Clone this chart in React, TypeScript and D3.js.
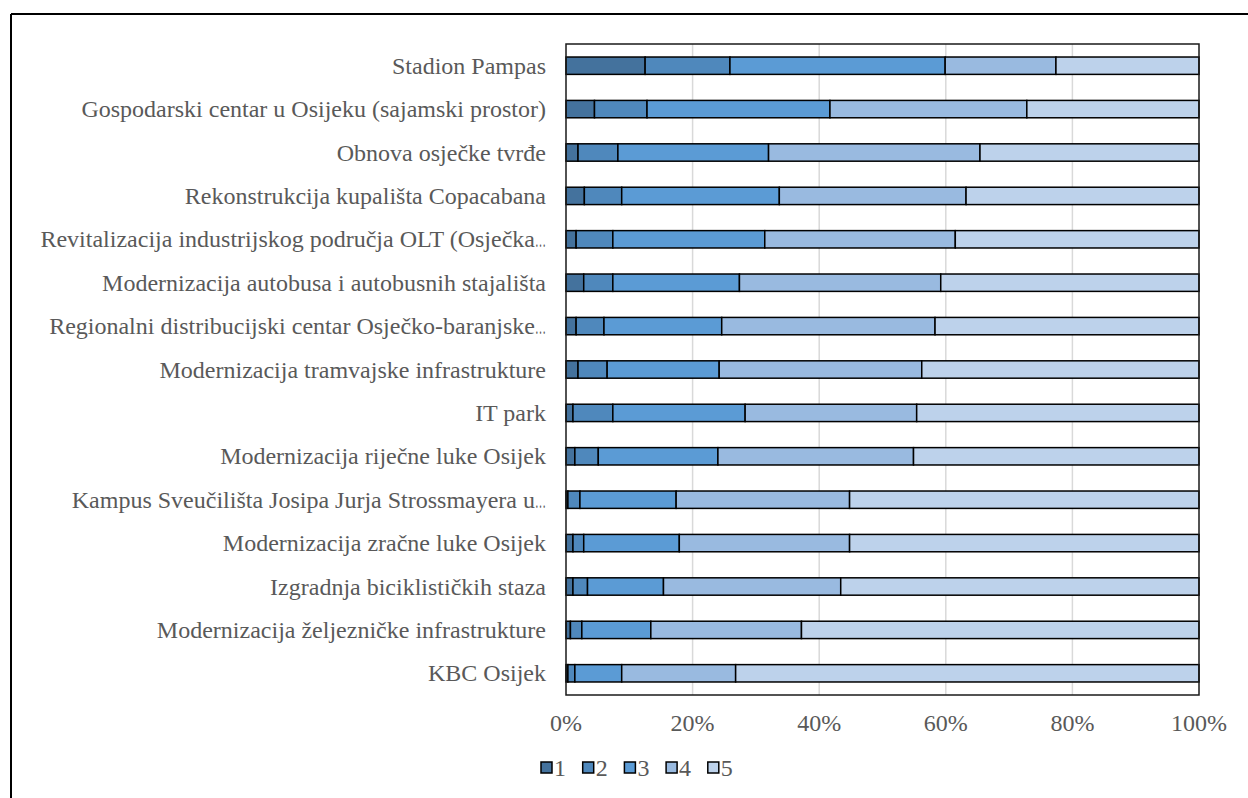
import React from "react";
import * as d3 from "d3";

const categories = [
  "Stadion Pampas",
  "Gospodarski centar u Osijeku (sajamski prostor)",
  "Obnova osječke tvrđe",
  "Rekonstrukcija kupališta Copacabana",
  "Revitalizacija industrijskog područja OLT (Osječka…",
  "Modernizacija autobusa i autobusnih stajališta",
  "Regionalni distribucijski centar Osječko-baranjske…",
  "Modernizacija tramvajske infrastrukture",
  "IT park",
  "Modernizacija riječne luke Osijek",
  "Kampus Sveučilišta Josipa Jurja Strossmayera u…",
  "Modernizacija zračne luke Osijek",
  "Izgradnja biciklističkih staza",
  "Modernizacija željezničke infrastrukture",
  "KBC Osijek",
];

const series1 = [12.5, 4.5, 1.9, 2.9, 1.6, 2.8, 1.6, 1.9, 1.1, 1.4, 0.3, 1.1, 1.1, 0.7, 0.3];
const series2 = [13.4, 8.3, 6.3, 5.9, 5.8, 4.6, 4.4, 4.6, 6.3, 3.7, 1.9, 1.7, 2.3, 1.8, 1.1];
const series3 = [34.0, 28.9, 23.8, 24.9, 24.0, 20.0, 18.6, 17.7, 20.9, 18.9, 15.2, 15.1, 12.0, 10.9, 7.4];
const series4 = [17.5, 31.1, 33.4, 29.5, 30.1, 31.8, 33.7, 32.0, 27.1, 30.9, 27.4, 26.9, 28.0, 23.8, 18.0];
const series5 = [22.6, 27.2, 34.6, 36.8, 38.5, 40.8, 41.7, 43.8, 44.6, 45.1, 55.2, 55.2, 56.6, 62.8, 73.2];

const seriesNames = ["1", "2", "3", "4", "5"];
const colors = ["#44729d", "#4f88bc", "#5b9bd5", "#99bae0", "#bdd2eb"];
const xTicks = [0, 0.2, 0.4, 0.6, 0.8, 1];

const W = 1248;
const H = 798;
const FONT = "'Liberation Serif', 'Times New Roman', serif";
const TEXT = "#595959";
const FS = 24;

function Label({ text }: { text: string }) {
  if (text.endsWith("…")) {
    return (
      <>
        {text.slice(0, -1)}
        <tspan textLength={11} lengthAdjust="spacingAndGlyphs">…</tspan>
      </>
    );
  }
  return <>{text}</>;
}

export default function App() {
  const left = 566;
  const right = 1199;
  const top = 44;
  const bottom = 695;

  const rows = categories.map((c, i) => {
    const vals = [series1[i], series2[i], series3[i], series4[i], series5[i]];
    const total = d3.sum(vals);
    const r: any = { cat: c };
    seriesNames.forEach((k, j) => (r[k] = vals[j] / total));
    return r;
  });
  const stacked = d3.stack<any>().keys(seriesNames)(rows);

  const x = d3.scaleLinear().domain([0, 1]).range([left, right]);
  const y = d3
    .scaleBand<string>()
    .domain(categories)
    .range([top, bottom])
    .paddingInner(0.6)
    .paddingOuter(0.3);

  const fmt = d3.format(".0%");

  return (
    <svg
      width={W}
      height={H}
      style={{ position: "absolute", left: 0, top: 0, background: "#fff" }}
    >
      <rect x={0} y={0} width={W} height={H} fill="#fff" />
      {/* outer frame */}
      <line x1={11} y1={14} x2={W} y2={14} stroke="#000" strokeWidth={2} />
      <line x1={11} y1={14} x2={11} y2={H} stroke="#000" strokeWidth={2} />

      {/* gridlines */}
      {xTicks.slice(1, -1).map((t) => (
        <line
          key={t}
          x1={x(t)}
          x2={x(t)}
          y1={top}
          y2={bottom}
          stroke="#d9d9d9"
          strokeWidth={1.5}
        />
      ))}

      {/* bars */}
      {stacked.map((s, si) => (
        <g key={s.key}>
          {s.map((d: any, i) => (
            <rect
              key={i}
              x={x(d[0])}
              y={y(d.data.cat)!}
              width={Math.max(0, x(d[1]) - x(d[0]))}
              height={y.bandwidth()}
              fill={colors[si]}
              stroke="#000"
              strokeWidth={1.5}
            />
          ))}
        </g>
      ))}

      {/* plot area border */}
      <rect
        x={left}
        y={top}
        width={right - left}
        height={bottom - top}
        fill="none"
        stroke="#1a1a1a"
        strokeWidth={1.5}
      />

      {/* category labels */}
      {categories.map((c) => (
        <text
          key={c}
          x={left - 20}
          y={y(c)! + y.bandwidth() / 2}
          textAnchor="end"
          dominantBaseline="central"
          fontFamily={FONT}
          fontSize={FS}
          fill={TEXT}
        >
          <Label text={c} />
        </text>
      ))}

      {/* x tick labels */}
      {xTicks.map((t) => (
        <text
          key={t}
          x={x(t)}
          y={723}
          textAnchor="middle"
          dominantBaseline="central"
          fontFamily={FONT}
          fontSize={FS}
          fill={TEXT}
        >
          {fmt(t)}
        </text>
      ))}

      {/* legend */}
      {seriesNames.map((n, i) => (
        <g key={n} transform={`translate(${541 + i * 41.7},762)`}>
          <rect x={0} y={0} width={11} height={11} fill={colors[i]} stroke="#000" strokeWidth={1.5} />
          <text
            x={13}
            y={6}
            dominantBaseline="central"
            fontFamily={FONT}
            fontSize={FS}
            fill={TEXT}
          >
            {n}
          </text>
        </g>
      ))}
    </svg>
  );
}
